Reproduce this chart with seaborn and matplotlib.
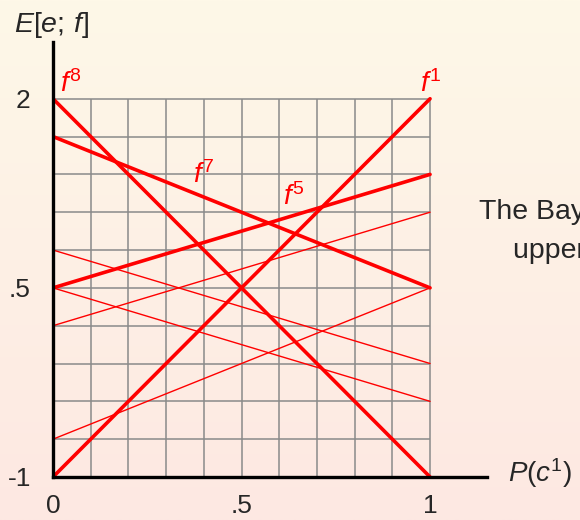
import numpy as np
import pandas as pd
import matplotlib
matplotlib.use("Agg")
import matplotlib.pyplot as plt
from matplotlib.colors import LinearSegmentedColormap
import seaborn as sns

# Expected value of each decision rule at P(c1) = 0 and P(c1) = 1
rule_names = ["f1", "f2", "f3", "f4", "f5", "f6", "f7", "f8"]
value_at_p0 = [-1.0, -0.7, 0.2, 0.5, 0.5, 0.8, 1.7, 2.0]
value_at_p1 = [2.0, 0.5, 1.1, -0.4, 1.4, -0.1, 0.5, -1.0]
envelope_rules = ["f1", "f5", "f7", "f8"]

x_ticks = [0, 0.5, 1]
x_tick_labels = ["0", ".5", "1"]
y_ticks = [-1, 0.5, 2]
y_tick_labels = ["-1", ".5", "2"]

rule_labels = {"f8": r"$f^{8}$", "f1": r"$f^{1}$", "f7": r"$f^{7}$", "f5": r"$f^{5}$"}
label_anchor = {"f8": (0.019, 2.05), "f1": (0.973, 2.05),
                "f7": (0.371, 1.33), "f5": (0.61, 1.16)}

sns.set_style("white")
plt.rcParams["font.family"] = ["Liberation Sans", "DejaVu Sans"]
plt.rcParams["mathtext.fontset"] = "custom"
plt.rcParams["mathtext.rm"] = "Liberation Sans"
plt.rcParams["mathtext.it"] = "Liberation Sans:italic"

rows = []
for name, v0, v1 in zip(rule_names, value_at_p0, value_at_p1):
    rows.append({"rule": name, "p": 0.0, "E": v0})
    rows.append({"rule": name, "p": 1.0, "E": v1})
df = pd.DataFrame(rows)
df["envelope"] = df["rule"].isin(envelope_rules)

fig = plt.figure(figsize=(5.8, 5.2), dpi=100)

# soft cream-to-blush background
bg = fig.add_axes([0, 0, 1, 1], zorder=-10)
cmap = LinearSegmentedColormap.from_list("bg", ["#FEF8E8", "#FDE8E2"])
bg.imshow(np.linspace(0, 1, 256).reshape(-1, 1), aspect="auto", cmap=cmap,
          extent=[0, 1, 0, 1])
bg.set_axis_off()

ax = fig.add_axes([53 / 580, 43 / 520, 434 / 580, 435 / 520])
ax.patch.set_alpha(0)
ax.set_xlim(0, 1.151)
ax.set_ylim(-1, 2.45)

# grid over the unit square only
grid_c = "#8a8a8a"
ax.vlines(np.linspace(0, 1, 11), -1, 2, color=grid_c, lw=1.1, zorder=1)
ax.hlines(np.linspace(-1, 2, 11), 0, 1, color=grid_c, lw=1.1, zorder=1)

sns.lineplot(data=df[~df["envelope"]], x="p", y="E", units="rule",
             estimator=None, color="#FF0000", lw=1.0, ax=ax, zorder=3)
sns.lineplot(data=df[df["envelope"]], x="p", y="E", units="rule",
             estimator=None, color="#FF0000", lw=2.6, ax=ax, zorder=4)

for name, txt in rule_labels.items():
    x, y = label_anchor[name]
    ax.text(x, y, txt, color="#FF0000", fontsize=20, ha="left", va="baseline")

ax.set_xticks(x_ticks, labels=x_tick_labels)
ax.set_yticks(y_ticks, labels=y_tick_labels)
ax.tick_params(axis="both", length=0, labelsize=19)
ax.tick_params(axis="y", pad=16)
ax.tick_params(axis="x", pad=12)
ax.set_xlabel("")
ax.set_ylabel("")
for side in ["top", "right"]:
    ax.spines[side].set_visible(False)
for side in ["left", "bottom"]:
    ax.spines[side].set_linewidth(2.4)
    ax.spines[side].set_color("black")
    ax.spines[side].set_zorder(5)

fig.text(14 / 580, 1 - 32 / 520, r"$E[e;\,f]$", fontsize=20.5, ha="left", va="baseline")
fig.text(508 / 580, 1 - 482 / 520, r"$P(c^{1})$", fontsize=20, ha="left", va="baseline")

fig.text(479 / 580, 1 - 219 / 520, "The Bayes rule is the", fontsize=20.5,
         ha="left", va="baseline")
fig.text(513 / 580, 1 - 258 / 520, "upper envelope", fontsize=20.5,
         ha="left", va="baseline")

fig.savefig("out.png", dpi=100)
